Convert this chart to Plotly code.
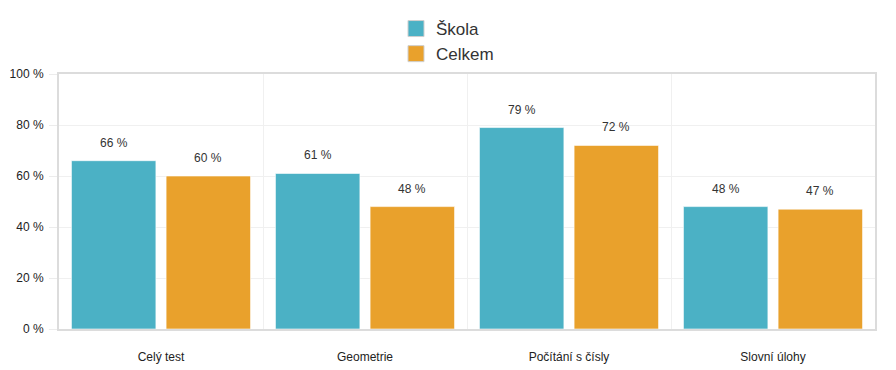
import plotly.graph_objects as go

categories = ["Celý test", "Geometrie", "Počítání s čísly", "Slovní úlohy"]
skola = [66, 61, 79, 48]
celkem = [60, 48, 72, 47]
y_ticks = [0, 20, 40, 60, 80, 100]
y_tick_labels = ["0 %", "20 %", "40 %", "60 %", "80 %", "100 %"]

C_SKOLA = "#4bb1c5"
C_CELKEM = "#e9a12c"
FONT = "Arial, Liberation Sans, sans-serif"

xs = list(range(len(categories)))
W = 0.414
OFF = 0.232

fig = go.Figure()
for name, vals, color, sign in (("Škola", skola, C_SKOLA, -1), ("Celkem", celkem, C_CELKEM, 1)):
    fig.add_trace(go.Bar(
        name=name, x=xs, y=vals, width=W, offset=sign * OFF - W / 2, showlegend=False,
        marker=dict(color=color, line=dict(color="rgba(255,255,255,0.6)", width=1)),
    ))
    # legend entry with a larger bordered square
    fig.add_trace(go.Scatter(
        name=name, x=[None], y=[None], mode="markers",
        marker=dict(symbol="square", size=16, color=color, line=dict(color="#cfcfcf", width=1)),
    ))
    for i, v in enumerate(vals):
        fig.add_annotation(x=i + sign * OFF, y=v, text=f"{v} %", showarrow=False,
                           yanchor="bottom", yshift=9,
                           font=dict(family=FONT, size=12, color="#333"))

fig.update_layout(
    width=896, height=370,
    margin=dict(l=59, r=21, t=74, b=41),
    paper_bgcolor="white", plot_bgcolor="white",
    barmode="overlay",
    font=dict(family=FONT, size=12, color="#333"),
    showlegend=True,
    legend=dict(orientation="v", x=(396 - 59) / 816, xanchor="left", xref="paper",
                y=1 - 11 / 370, yanchor="top", yref="container",
                bgcolor="rgba(0,0,0,0)",
                font=dict(family=FONT, size=17, color="#333"),
                itemwidth=30, tracegroupgap=0),
    xaxis=dict(range=[-0.5, 3.5], tickvals=xs, ticktext=categories, automargin=False,
               showgrid=False, zeroline=False, showline=True, mirror=True,
               linecolor="#dcdcdc", linewidth=2, ticks="", ticklabelstandoff=16,
               minor=dict(tick0=0.5, dtick=1, showgrid=True, gridcolor="#f0f0f0", gridwidth=1),
               tickfont=dict(size=12, color="#222")),
    yaxis=dict(range=[0, 100], tickvals=y_ticks, ticktext=y_tick_labels, automargin=False,
               showgrid=True, gridcolor="#f0f0f0", zeroline=False,
               showline=True, mirror=True, linecolor="#dcdcdc", linewidth=2,
               ticks="outside", ticklen=8, tickcolor="#ececec", ticklabelstandoff=3,
               tickfont=dict(size=12, color="#222")),
)

fig.write_html("out.html", post_script="document.body.style.margin='0';",
               config={"displayModeBar": False})
